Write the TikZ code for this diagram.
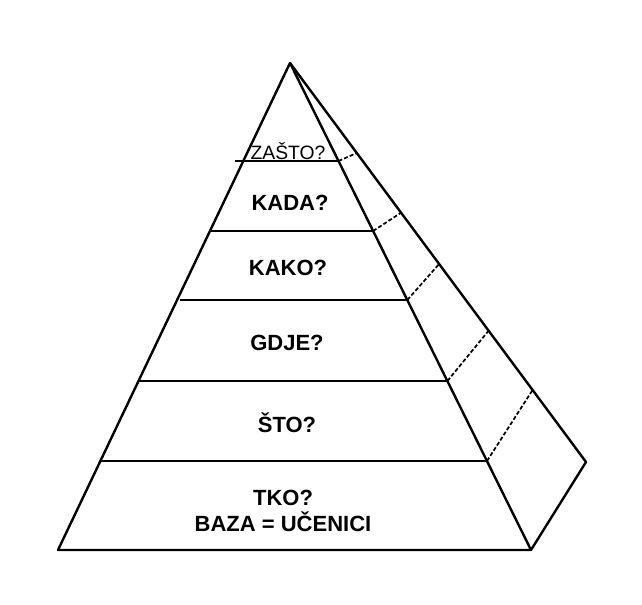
\documentclass[tikz,border=0pt]{standalone}
\usepackage{fontspec}
\setmainfont{Liberation Sans}
\begin{document}
\begin{tikzpicture}[x=0.75pt,y=-0.75pt,
  edge/.style={line width=1.8pt,line join=round,line cap=round},
  divider/.style={line width=1.5pt},
  hidden/.style={line width=1.3pt,dash pattern=on 3pt off 1.6pt},
  lbl/.style={font=\fontsize{16.5}{18}\selectfont\bfseries,align=center,inner sep=0pt},
  smalllbl/.style={font=\fontsize{14.5}{16}\selectfont,inner sep=0pt}]
\useasboundingbox (0,0) rectangle (642,605);
% corners
\coordinate (A)  at (290,63);
\coordinate (BL) at (58,550);
\coordinate (BR) at (531,550);
\coordinate (BK) at (586,462);
% divider end points on the front faces
\coordinate (L1) at (235,161);   \coordinate (R1) at (338.5,161);
\coordinate (L2) at (210,231);   \coordinate (R2) at (373.1,231);
\coordinate (L3) at (180,300);   \coordinate (R3) at (407.3,300);
\coordinate (L4) at (138.5,381); \coordinate (R4) at (447.4,381);
\coordinate (L5) at (100.4,461); \coordinate (R5) at (487,461);
% points on the back edge
\coordinate (K1) at (356.8,153);
\coordinate (K2) at (401.1,212.7);
\coordinate (K3) at (439.1,264);
\coordinate (K4) at (488.6,330.7);
\coordinate (K5) at (532.6,390);
% outline
\draw[edge] (BL) -- (A) -- (BR) -- cycle;
\draw[edge] (A) -- (BK) -- (BR);
% dividers
\foreach \i in {1,...,5}{
  \draw[divider] (L\i) -- (R\i);
  \draw[hidden] (R\i) -- (K\i);
}
% labels
\node[smalllbl] (t1) at (288,151) {ZAŠTO?};
\node[lbl] (t2) at (290,203) {KADA?};
\node[lbl] (t3) at (288,268) {KAKO?};
\node[lbl] (t4) at (287,343) {GDJE?};
\node[lbl] (t5) at (287,423) {ŠTO?};
\node[lbl] (t6) at (283,511) {TKO?\\[2pt]BAZA = UČENICI};
\end{tikzpicture}
\end{document}
